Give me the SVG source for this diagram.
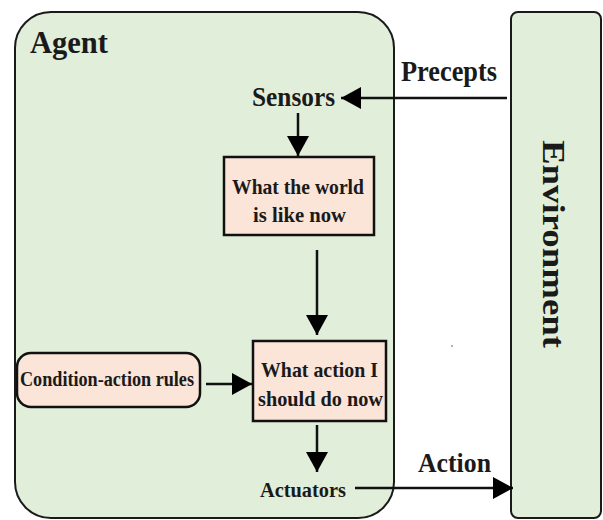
<svg xmlns="http://www.w3.org/2000/svg" width="603" height="520" viewBox="0 0 603 520">
<defs>
<style>
.frame{fill:#e1eed9;stroke:#1a1a1a;stroke-width:2}
.box{fill:#fbe4d8;stroke:#111;stroke-width:2.5}
.t{font-family:"Liberation Serif","Times New Roman",serif;font-weight:bold;fill:#1a1a1a}
.c{text-anchor:middle}
.ln{stroke:#111;stroke-width:2.5;fill:none}
</style>
<marker id="ah" viewBox="0 0 20 22" refX="20" refY="11" markerWidth="20" markerHeight="22" markerUnits="userSpaceOnUse" orient="auto">
<path d="M0,0 L20,11 L0,22 Z" fill="#000"/>
</marker>
</defs>
<rect width="603" height="520" fill="#fff"/>
<g id="agent">
<rect class="frame" x="15" y="12" width="379" height="506" rx="36" ry="36"/>
<text class="t" x="30" y="53" font-size="32" textLength="78" lengthAdjust="spacingAndGlyphs">Agent</text>
</g>
<g id="environment">
<rect class="frame" x="511" y="12" width="90" height="506" rx="7" ry="7"/>
<text class="t c" transform="translate(543,244) rotate(90)" font-size="31" textLength="208" lengthAdjust="spacingAndGlyphs">Environment</text>
</g>
<g id="sensors">
<text class="t c" x="293.5" y="106" font-size="27" textLength="83" lengthAdjust="spacingAndGlyphs">Sensors</text>
</g>
<g id="world">
<rect class="box" x="224" y="157" width="150" height="78"/>
<text class="t c" x="298" y="194" font-size="21" textLength="132" lengthAdjust="spacingAndGlyphs">What the world</text>
<text class="t c" x="299.5" y="222" font-size="21" textLength="93" lengthAdjust="spacingAndGlyphs">is like now</text>
</g>
<g id="action-choice">
<rect class="box" x="253" y="341" width="133" height="80"/>
<text class="t c" x="319.5" y="377" font-size="21" textLength="117" lengthAdjust="spacingAndGlyphs">What action I</text>
<text class="t c" x="320.5" y="406" font-size="21" textLength="125" lengthAdjust="spacingAndGlyphs">should do now</text>
</g>
<g id="rules">
<rect class="box" x="17" y="353" width="183" height="54" rx="14" ry="14"/>
<text class="t c" x="107" y="386" font-size="20" textLength="174" lengthAdjust="spacingAndGlyphs">Condition-action rules</text>
</g>
<g id="actuators">
<text class="t c" x="303" y="497" font-size="20" textLength="86" lengthAdjust="spacingAndGlyphs">Actuators</text>
</g>
<g id="connectors">
<line class="ln" x1="507" y1="98" x2="341" y2="98" marker-end="url(#ah)"/>
<line class="ln" x1="298" y1="113" x2="298" y2="156" marker-end="url(#ah)"/>
<line class="ln" x1="317" y1="250" x2="317" y2="335" marker-end="url(#ah)"/>
<line class="ln" x1="206" y1="384" x2="252" y2="384" marker-end="url(#ah)"/>
<line class="ln" x1="317" y1="425" x2="317" y2="472" marker-end="url(#ah)"/>
<line class="ln" x1="355" y1="488" x2="513" y2="488" marker-end="url(#ah)"/>
<text class="t" x="401" y="81" font-size="29" textLength="96" lengthAdjust="spacingAndGlyphs">Precepts</text>
<text class="t" x="418" y="472" font-size="27" textLength="73" lengthAdjust="spacingAndGlyphs">Action</text>
</g>
<circle cx="452" cy="346" r="1" fill="#999"/>
</svg>
